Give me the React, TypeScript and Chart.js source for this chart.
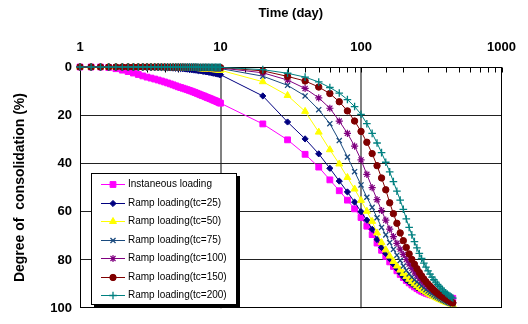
import React, { useEffect, useRef } from 'react';
import { Chart, registerables } from 'chart.js';
import { drawPoint } from 'chart.js/helpers';

Chart.register(...registerables);

// Time (day): 1 .. 10 every 0.2 day, then 20 .. 450 every 10 days
const daysEarly = [
  1, 1.2, 1.4, 1.6, 1.8, 2, 2.2, 2.4, 2.6, 2.8,
  3, 3.2, 3.4, 3.6, 3.8, 4, 4.2, 4.4, 4.6, 4.8,
  5, 5.2, 5.4, 5.6, 5.8, 6, 6.2, 6.4, 6.6, 6.8,
  7, 7.2, 7.4, 7.6, 7.8, 8, 8.2, 8.4, 8.6, 8.8,
  9, 9.2, 9.4, 9.6, 9.8, 10,
];
const daysLate = [
  20, 30, 40, 50, 60, 70, 80, 90, 100, 110,
  120, 130, 140, 150, 160, 170, 180, 190, 200, 210,
  220, 230, 240, 250, 260, 270, 280, 290, 300, 310,
  320, 330, 340, 350, 360, 370, 380, 390, 400, 410,
  420, 430, 440, 450,
];
const days = [...daysEarly, ...daysLate];

// Degree of consolidation (%)
const instantaneous = [
  0, 0, 0, 0.2, 0.7, 1.3, 1.9, 2.5, 3.1, 3.7,
  4.2, 4.6, 5.0, 5.4, 5.8, 6.2, 6.6, 7.0, 7.4, 7.8,
  8.2, 8.5, 8.8, 9.1, 9.4, 9.7, 10.0, 10.3, 10.6, 10.9,
  11.2, 11.5, 11.8, 12.0, 12.3, 12.6, 12.8, 13.1, 13.3, 13.6,
  13.8, 14.0, 14.3, 14.5, 14.8, 15.0,
  23.6, 30.2, 36.2, 41.5, 46.8, 51.3, 55.2, 58.8, 62.4, 66.0,
  69.5, 73.0, 76.0, 78.5, 80.8, 82.7, 84.5, 86.0, 87.3, 88.5,
  89.5, 90.4, 91.2, 91.9, 92.5, 93.0, 93.4, 93.8, 94.1, 94.4,
  94.6, 94.8, 95.0, 95.2, 95.3, 95.4, 95.5, 95.6, 95.7, 95.7,
  95.8, 95.8, 95.9, 95.9,
];
const ramp25 = [
  0, 0, 0, 0, 0, 0, 0, 0, 0.05, 0.1,
  0.1, 0.15, 0.2, 0.2, 0.25, 0.3, 0.35, 0.4, 0.45, 0.5,
  0.6, 0.65, 0.7, 0.8, 0.9, 1.0, 1.1, 1.2, 1.3, 1.4,
  1.5, 1.6, 1.7, 1.8, 1.9, 2.0, 2.1, 2.2, 2.35, 2.5,
  2.6, 2.7, 2.8, 2.95, 3.1, 3.2,
  12.0, 22.8, 29.8, 36.0, 42.0, 47.3, 51.8, 56.0, 60.0, 63.5,
  67.3, 71.5, 74.8, 77.3, 79.5, 81.7, 83.6, 85.5, 87.0, 88.3,
  89.2, 90.0, 90.7, 91.4, 92.0, 92.6, 93.1, 93.6, 94.0, 94.4,
  94.8, 95.1, 95.4, 95.7, 96.0, 96.3, 96.5, 96.8, 97.0, 97.3,
  97.5, 97.7, 97.9, 98.1,
];
const ramp50 = [
  0, 0, 0, 0, 0, 0, 0, 0, 0, 0.05,
  0.05, 0.05, 0.1, 0.1, 0.1, 0.15, 0.15, 0.2, 0.2, 0.25,
  0.3, 0.3, 0.35, 0.4, 0.4, 0.45, 0.5, 0.55, 0.6, 0.6,
  0.65, 0.7, 0.75, 0.8, 0.85, 0.9, 0.9, 0.95, 1.0, 1.05,
  1.1, 1.15, 1.2, 1.25, 1.3, 1.35,
  6.1, 11.8, 18.4, 27.0, 34.3, 40.2, 45.8, 50.6, 55.3, 59.8,
  64.0, 68.8, 72.8, 75.8, 78.4, 80.6, 82.5, 84.2, 85.6, 86.9,
  88.0, 89.0, 89.9, 90.7, 91.4, 92.1, 92.7, 93.3, 93.8, 94.3,
  94.8, 95.2, 95.6, 95.9, 96.3, 96.6, 96.9, 97.2, 97.5, 97.7,
  97.9, 98.1, 98.3, 98.5,
];
const ramp75 = [
  0, 0, 0, 0, 0, 0, 0, 0, 0, 0,
  0, 0, 0, 0.05, 0.05, 0.05, 0.05, 0.1, 0.1, 0.1,
  0.1, 0.15, 0.15, 0.15, 0.2, 0.2, 0.2, 0.25, 0.25, 0.3,
  0.3, 0.3, 0.35, 0.35, 0.4, 0.4, 0.45, 0.45, 0.5, 0.5,
  0.5, 0.55, 0.55, 0.6, 0.6, 0.65,
  3.8, 7.6, 12.0, 17.7, 23.5, 30.5, 37.3, 43.4, 48.9, 54.0,
  58.2, 62.5, 66.5, 69.6, 72.8, 75.6, 78.0, 80.2, 82.5, 84.3,
  85.8, 87.1, 88.2, 89.1, 90.0, 90.8, 91.6, 92.3, 92.9, 93.5,
  94.0, 94.5, 95.0, 95.4, 95.8, 96.2, 96.5, 96.8, 97.1, 97.4,
  97.6, 97.9, 98.1, 98.3,
];
const ramp100 = [
  0, 0, 0, 0, 0, 0, 0, 0, 0, 0,
  0, 0, 0, 0, 0, 0.05, 0.05, 0.05, 0.05, 0.05,
  0.1, 0.1, 0.1, 0.1, 0.1, 0.15, 0.15, 0.15, 0.15, 0.2,
  0.2, 0.2, 0.2, 0.25, 0.25, 0.25, 0.3, 0.3, 0.3, 0.3,
  0.35, 0.35, 0.35, 0.4, 0.4, 0.4,
  2.4, 5.4, 8.9, 12.8, 17.1, 22.4, 27.5, 32.8, 38.5, 44.5,
  50.0, 55.0, 59.5, 63.5, 67.2, 70.3, 73.1, 75.5, 77.7, 79.8,
  81.7, 83.5, 85.0, 86.3, 87.5, 88.5, 89.4, 90.3, 91.0, 91.6,
  92.2, 92.8, 93.3, 93.8, 94.3, 94.7, 95.1, 95.5, 95.9, 96.3,
  96.7, 97.0, 97.4, 97.7,
];
const ramp150 = [
  0, 0, 0, 0, 0, 0, 0, 0, 0, 0,
  0, 0, 0, 0, 0, 0, 0.05, 0.05, 0.05, 0.05,
  0.05, 0.05, 0.05, 0.1, 0.1, 0.1, 0.1, 0.1, 0.1, 0.1,
  0.15, 0.15, 0.15, 0.15, 0.15, 0.15, 0.2, 0.2, 0.2, 0.2,
  0.2, 0.2, 0.25, 0.25, 0.25, 0.25,
  1.6, 3.9, 5.8, 8.3, 11.0, 14.4, 18.2, 22.4, 26.7, 31.2,
  35.9, 40.9, 46.0, 50.9, 56.3, 60.8, 64.8, 68.8, 72.0, 74.8,
  77.5, 79.8, 81.8, 83.6, 85.2, 86.6, 87.9, 89.0, 90.0, 90.9,
  91.7, 92.5, 93.2, 93.8, 94.3, 94.8, 95.3, 95.7, 96.1, 96.5,
  96.8, 97.2, 97.5, 97.8,
];
const ramp200 = [
  0, 0, 0, 0, 0, 0, 0, 0, 0, 0,
  0, 0, 0, 0, 0, 0, 0, 0, 0, 0,
  0, 0, 0.05, 0.05, 0.05, 0.05, 0.05, 0.05, 0.05, 0.05,
  0.1, 0.1, 0.1, 0.1, 0.1, 0.1, 0.1, 0.1, 0.1, 0.1,
  0.15, 0.15, 0.15, 0.15, 0.15, 0.15,
  1.1, 2.6, 4.2, 6.2, 8.5, 10.8, 13.5, 16.4, 19.6, 23.5,
  27.5, 31.5, 35.5, 39.5, 43.5, 47.5, 51.5, 55.2, 59.0, 63.0,
  66.5, 69.6, 72.4, 75.0, 77.3, 79.4, 81.3, 83.0, 84.5, 85.9,
  87.1, 88.2, 89.2, 90.1, 90.9, 91.7, 92.4, 93.0, 93.6, 94.1,
  94.6, 95.0, 95.4, 95.8,
];

const seriesLabels = [
  'Instaneous loading',
  'Ramp loading(tc=25)',
  'Ramp loading(tc=50)',
  'Ramp loading(tc=75)',
  'Ramp loading(tc=100)',
  'Ramp loading(tc=150)',
  'Ramp loading(tc=200)',
];
const seriesValues = [instantaneous, ramp25, ramp50, ramp75, ramp100, ramp150, ramp200];
const seriesColors = ['#FF00FF', '#000080', '#FFFF00', '#1A4A7E', '#800080', '#800000', '#008080'];
const seriesMarkers = ['rect', 'rectRot', 'triangle', 'crossRot', 'star', 'circle', 'cross'];
const seriesMarkerSizes = [4.1, 3.1, 4.0, 3.6, 3.6, 3.2, 3.8];
const seriesMarkerBorders = [1, 1, 1, 1.3, 1.2, 1, 1.3];

const xTickLabels = [1, 10, 100, 1000];
const xGridMajor = [10, 100];

const FONT = "'Liberation Sans', Arial, sans-serif";

const framePlugin = {
  id: 'frame',
  beforeDatasetsDraw(chart: any) {
    const { ctx, chartArea } = chart;
    const xs = chart.scales.x;
    ctx.save();
    ctx.strokeStyle = '#000';
    ctx.lineWidth = 1;
    const l = Math.round(chartArea.left) + 0.5;
    const t = Math.round(chartArea.top) + 0.5;
    const r = Math.round(chartArea.right) - 0.5;
    const b = Math.round(chartArea.bottom) - 0.5;
    ctx.strokeRect(l, t, r - l, b - t);
    // inward tick marks on top axis
    xs.ticks.forEach((tk: any) => {
      const px = Math.round(xs.getPixelForValue(tk.value)) + 0.5;
      ctx.beginPath();
      ctx.moveTo(px, t);
      ctx.lineTo(px, t + 5);
      ctx.stroke();
    });
    ctx.restore();
  },
};

const legendPlugin = {
  id: 'insideLegend',
  afterDatasetsDraw(chart: any) {
    const { ctx, chartArea } = chart;
    const left = Math.round(chartArea.left) + 11;
    const top = Math.round(chartArea.top) + 106;
    const w = 146;
    const h = 132;
    ctx.save();
    ctx.fillStyle = '#000';
    ctx.fillRect(left + 3, top + 3, w, h);
    ctx.fillStyle = '#fff';
    ctx.fillRect(left, top, w, h);
    ctx.strokeStyle = '#000';
    ctx.lineWidth = 1;
    ctx.strokeRect(left + 0.5, top + 0.5, w - 1, h - 1);
    chart.data.datasets.forEach((ds: any, i: number) => {
      const y = top + 11 + i * 18.5;
      ctx.strokeStyle = ds.borderColor;
      ctx.fillStyle = ds.backgroundColor;
      ctx.lineWidth = 1;
      ctx.beginPath();
      ctx.moveTo(left + 10, Math.round(y) + 0.5);
      ctx.lineTo(left + 34, Math.round(y) + 0.5);
      ctx.stroke();
      ctx.lineWidth = ds.pointBorderWidth;
      drawPoint(ctx, { pointStyle: ds.pointStyle, radius: ds.pointRadius, rotation: 0, borderWidth: ds.pointBorderWidth }, left + 22, Math.round(y) + 0.5);
      ctx.fillStyle = '#000';
      ctx.font = `10px ${FONT}`;
      ctx.textBaseline = 'middle';
      ctx.textAlign = 'left';
      ctx.fillText(ds.label, left + 37, y + 0.5);
    });
    ctx.restore();
  },
};

export default function App() {
  const ref = useRef<HTMLCanvasElement>(null);
  useEffect(() => {
    document.body.style.margin = '0';
    const datasets = seriesLabels.map((label, i) => ({
      label,
      data: days.map((d, j) => ({ x: d, y: seriesValues[i][j] })),
      borderColor: seriesColors[i],
      backgroundColor: seriesColors[i],
      borderWidth: 1,
      pointStyle: seriesMarkers[i],
      pointRadius: seriesMarkerSizes[i],
      pointBorderWidth: seriesMarkerBorders[i],
      pointBackgroundColor: seriesColors[i],
      pointBorderColor: seriesColors[i],
      tension: 0,
      clip: false,
      order: seriesLabels.length - i,
    }));
    const chart = new Chart(ref.current!, {
      type: 'line',
      data: { datasets },
      plugins: [framePlugin, legendPlugin],
      options: {
        animation: false,
        responsive: false,
        devicePixelRatio: 1,
        layout: { padding: { left: 0, top: 0, right: 25, bottom: 12 } },
        plugins: { legend: { display: false }, tooltip: { enabled: false } },
        scales: {
          x: {
            type: 'logarithmic',
            position: 'top',
            min: 1,
            max: 1000,
            afterFit: (s: any) => { s.height = 67; },
            border: { display: false },
            grid: {
              drawTicks: false,
              lineWidth: 2,
              color: (c: any) => (c.tick && xGridMajor.includes(c.tick.value) ? '#808080' : 'rgba(0,0,0,0)'),
            },
            ticks: {
              autoSkip: false,
              maxRotation: 0,
              padding: 12,
              color: '#000',
              font: { family: FONT, size: 13, weight: 'bold' },
              callback: (v: any) => (xTickLabels.includes(Number(v)) ? String(v) : ''),
            },
            title: {
              display: true,
              text: 'Time (day)',
              color: '#000',
              font: { family: FONT, size: 13, weight: 'bold' },
              padding: { top: 6, bottom: 0 },
            },
          },
          y: {
            type: 'linear',
            reverse: true,
            min: 0,
            max: 100,
            afterFit: (s: any) => { s.width = 80; },
            border: { display: false },
            grid: {
              drawTicks: false,
              lineWidth: 1,
              color: (c: any) => (c.tick && c.tick.value > 0 && c.tick.value < 100 ? '#222' : 'rgba(0,0,0,0)'),
            },
            ticks: {
              stepSize: 20,
              padding: 8,
              color: '#000',
              font: { family: FONT, size: 13, weight: 'bold' },
            },
            title: {
              display: true,
              text: 'Degree of  consolidation (%)',
              color: '#000',
              font: { family: FONT, size: 14, weight: 'bold' },
              padding: { top: 12, bottom: 0 },
            },
          },
        },
      } as any,
    });
    return () => chart.destroy();
  }, []);
  return (
    <div style={{ width: 528, height: 324 }}>
      <canvas ref={ref} width={528} height={324} style={{ display: 'block', width: 528, height: 324 }} />
    </div>
  );
}
